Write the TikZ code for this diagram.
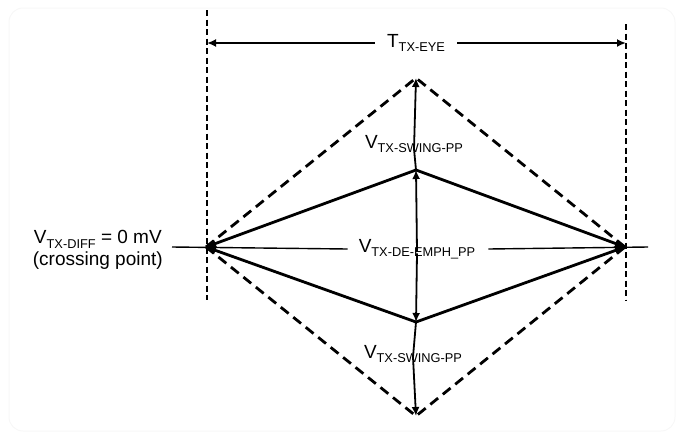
\documentclass[tikz,border=0pt]{standalone}
\usepackage{fontspec}
\setmainfont{Liberation Sans}
\usetikzlibrary{arrows.meta}
\newcommand{\lbl}[2]{{\fontsize{19}{20}\selectfont #1\raisebox{-4.5pt}{\fontsize{12.8}{13}\selectfont #2}}}
\begin{document}
\begin{tikzpicture}[x=1pt,y=-1pt,
  diam/.style={line width=2.8pt,line join=miter},
  dashdiam/.style={line width=2.8pt,dash pattern=on 10pt off 6pt},
  vdash/.style={line width=1.4pt,dash pattern=on 6pt off 3.5pt},
  dimline/.style={line width=1.8pt},
  dimarrow/.style={line width=1.8pt,-{Latex[length=9pt,width=8pt]}},
  tiparrow/.style={diam,-{Latex[length=10pt,width=9pt]}},
  txt/.style={inner sep=0pt,align=center}]
\useasboundingbox (0,0) rectangle (679,434);
\draw[black!3,line width=1pt,rounded corners=14pt] (9,8) rectangle (675,431);
% key points
\coordinate (L) at (206,247);
\coordinate (R) at (625,247);
\coordinate (Ttop) at (416,170);
\coordinate (Tbot) at (416,322);
\coordinate (Dtop) at (416,78);
\coordinate (Dbot) at (416,416);
\coordinate (VLa) at (207,10);
\coordinate (VLb) at (207,300);
\coordinate (VRa) at (626,24);
\coordinate (VRb) at (626,300);
\coordinate (EL) at (207,43);
\coordinate (ER) at (626,43);
\coordinate (HL) at (172,247);
\coordinate (HR) at (648,247);
% vertical dashed lines
\draw[vdash] (VLa) -- (VLb);
\draw[vdash] (VRa) -- (VRb);
% labels
\node[txt] (eye) at (416,43) {\lbl{T}{TX-EYE}};
\node[txt] (swu) at (414,144) {\lbl{V}{TX-SWING-PP}};
\node[txt] (dee) at (417,249) {\lbl{V}{TX-DE-EMPH\_PP}};
\node[txt] (swd) at (413,354) {\lbl{V}{TX-SWING-PP}};
\node[txt,anchor=east,font=\fontsize{19}{23}\selectfont] (diff) at (163,250) {V\raisebox{-4.5pt}{\fontsize{12.8}{13}\selectfont TX-DIFF} = 0 mV\\[-1pt](crossing point)};
% horizontal axis
\draw[line width=1.4pt] (HL) -- ([xshift=-11pt]dee.west);
\draw[line width=1.4pt] ([xshift=13pt]dee.east) -- (HR);
% eye width arrows
\draw[dimarrow] ([xshift=-12pt]eye.west) -- (EL);
\draw[dimarrow] ([xshift=12pt]eye.east) -- (ER);
% dashed diamond
\draw[dashdiam] (L) -- (Dtop) -- (R);
\draw[dashdiam] (L) -- (Dbot) -- (R);
% solid diamond
\draw[tiparrow] (Ttop) -- (L);
\draw[tiparrow] (Ttop) -- (R);
\draw[tiparrow] (Tbot) -- (L);
\draw[tiparrow] (Tbot) -- (R);
% vertical amplitude arrows
\draw[dimarrow] ([yshift=-14pt]swu.north) -- (Dtop);
\draw[dimline] ([yshift=4pt]swu.south) -- (Ttop);
\draw[dimarrow] ([yshift=-13pt]dee.north) -- (Ttop);
\draw[dimarrow] ([yshift=6pt]dee.south) -- (Tbot);
\draw[dimline] ([yshift=-12pt]swd.north) -- (Tbot);
\draw[dimarrow] ([yshift=6pt]swd.south) -- (Dbot);
\end{tikzpicture}
\end{document}
